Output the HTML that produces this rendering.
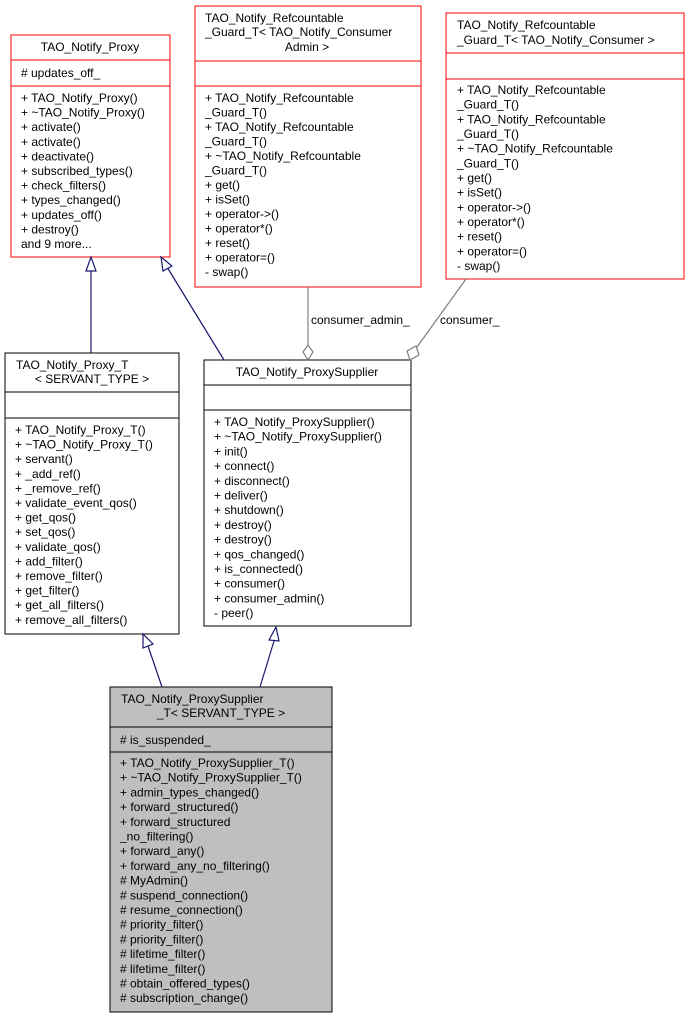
<!DOCTYPE html>
<html><head><meta charset="utf-8"><style>
html,body{margin:0;padding:0;background:#fff}
svg{display:block}
text{font-family:"Liberation Sans",Helvetica,sans-serif;font-size:12px;fill:#000}
</style></head><body>
<svg width="689" height="1019" viewBox="0 0 689 1019" xmlns="http://www.w3.org/2000/svg">
<!-- TAO_Notify_Proxy -->
<rect x="11" y="35" width="159" height="222" fill="#fff" stroke="#ff0000" stroke-width="1"/>
<line x1="11" y1="60" x2="170" y2="60" stroke="#ff0000"/>
<line x1="11" y1="86" x2="170" y2="86" stroke="#ff0000"/>
<text x="90" y="51" text-anchor="middle">TAO_Notify_Proxy</text>
<text x="21" y="77"># updates_off_</text>
<g transform="translate(21,102)">
<text y="0">+ TAO_Notify_Proxy()</text>
<text y="14.6">+ ~TAO_Notify_Proxy()</text>
<text y="29.2">+ activate()</text>
<text y="43.8">+ activate()</text>
<text y="58.4">+ deactivate()</text>
<text y="73">+ subscribed_types()</text>
<text y="87.6">+ check_filters()</text>
<text y="102.2">+ types_changed()</text>
<text y="116.8">+ updates_off()</text>
<text y="131.4">+ destroy()</text>
<text y="146">and 9 more...</text>
</g>
<!-- Refcountable 1 -->
<rect x="195" y="6" width="226" height="281" fill="#fff" stroke="#ff0000"/>
<line x1="195" y1="61" x2="421" y2="61" stroke="#ff0000"/>
<line x1="195" y1="86" x2="421" y2="86" stroke="#ff0000"/>
<text x="205" y="22">TAO_Notify_Refcountable</text>
<text x="205" y="36">_Guard_T&lt; TAO_Notify_Consumer</text>
<text x="307" y="51" text-anchor="middle">Admin &gt;</text>
<g transform="translate(205,102)">
<text y="0">+ TAO_Notify_Refcountable</text>
<text y="14.5">_Guard_T()</text>
<text y="29">+ TAO_Notify_Refcountable</text>
<text y="43.5">_Guard_T()</text>
<text y="58">+ ~TAO_Notify_Refcountable</text>
<text y="72.5">_Guard_T()</text>
<text y="87">+ get()</text>
<text y="101.5">+ isSet()</text>
<text y="116">+ operator-&gt;()</text>
<text y="130.5">+ operator*()</text>
<text y="145">+ reset()</text>
<text y="159.5">+ operator=()</text>
<text y="174">- swap()</text>
</g>
<!-- Refcountable 2 -->
<rect x="446" y="13" width="238" height="266" fill="#fff" stroke="#ff0000"/>
<line x1="446" y1="53" x2="684" y2="53" stroke="#ff0000"/>
<line x1="446" y1="79" x2="684" y2="79" stroke="#ff0000"/>
<text x="457" y="29">TAO_Notify_Refcountable</text>
<text x="457" y="44">_Guard_T&lt; TAO_Notify_Consumer &gt;</text>
<g transform="translate(457,94)">
<text y="0">+ TAO_Notify_Refcountable</text>
<text y="14.67">_Guard_T()</text>
<text y="29.3">+ TAO_Notify_Refcountable</text>
<text y="44">_Guard_T()</text>
<text y="58.7">+ ~TAO_Notify_Refcountable</text>
<text y="73.3">_Guard_T()</text>
<text y="88">+ get()</text>
<text y="102.7">+ isSet()</text>
<text y="117.3">+ operator-&gt;()</text>
<text y="132">+ operator*()</text>
<text y="146.7">+ reset()</text>
<text y="161.3">+ operator=()</text>
<text y="176">- swap()</text>
</g>
<!-- Proxy_T -->
<rect x="5" y="353" width="174" height="281" fill="#fff" stroke="#000"/>
<line x1="5" y1="392" x2="179" y2="392" stroke="#000"/>
<line x1="5" y1="418" x2="179" y2="418" stroke="#000"/>
<text x="16" y="369">TAO_Notify_Proxy_T</text>
<text x="92" y="383" text-anchor="middle">&lt; SERVANT_TYPE &gt;</text>
<g transform="translate(15,434)">
<text y="0">+ TAO_Notify_Proxy_T()</text>
<text y="14.6">+ ~TAO_Notify_Proxy_T()</text>
<text y="29.2">+ servant()</text>
<text y="43.8">+ _add_ref()</text>
<text y="58.4">+ _remove_ref()</text>
<text y="73">+ validate_event_qos()</text>
<text y="87.6">+ get_qos()</text>
<text y="102.2">+ set_qos()</text>
<text y="116.8">+ validate_qos()</text>
<text y="131.4">+ add_filter()</text>
<text y="146">+ remove_filter()</text>
<text y="160.6">+ get_filter()</text>
<text y="175.2">+ get_all_filters()</text>
<text y="189.8">+ remove_all_filters()</text>
</g>
<!-- ProxySupplier -->
<rect x="204" y="360" width="207" height="266" fill="#fff" stroke="#000"/>
<line x1="204" y1="385" x2="411" y2="385" stroke="#000"/>
<line x1="204" y1="410" x2="411" y2="410" stroke="#000"/>
<text x="307" y="376" text-anchor="middle">TAO_Notify_ProxySupplier</text>
<g transform="translate(214,426)">
<text y="0">+ TAO_Notify_ProxySupplier()</text>
<text y="14.7">+ ~TAO_Notify_ProxySupplier()</text>
<text y="29.4">+ init()</text>
<text y="44.1">+ connect()</text>
<text y="58.8">+ disconnect()</text>
<text y="73.5">+ deliver()</text>
<text y="88.2">+ shutdown()</text>
<text y="102.9">+ destroy()</text>
<text y="117.6">+ destroy()</text>
<text y="132.3">+ qos_changed()</text>
<text y="147">+ is_connected()</text>
<text y="161.7">+ consumer()</text>
<text y="176.4">+ consumer_admin()</text>
<text y="191.1">- peer()</text>
</g>
<!-- Bottom -->
<rect x="110" y="687" width="222" height="325" fill="#bfbfbf" stroke="#000"/>
<line x1="110" y1="727" x2="332" y2="727" stroke="#000"/>
<line x1="110" y1="752" x2="332" y2="752" stroke="#000"/>
<text x="121" y="703">TAO_Notify_ProxySupplier</text>
<text x="221" y="717" text-anchor="middle">_T&lt; SERVANT_TYPE &gt;</text>
<text x="120" y="744"># is_suspended_</text>
<g transform="translate(120,767)">
<text y="0">+ TAO_Notify_ProxySupplier_T()</text>
<text y="14.7">+ ~TAO_Notify_ProxySupplier_T()</text>
<text y="29.4">+ admin_types_changed()</text>
<text y="44.1">+ forward_structured()</text>
<text y="58.8">+ forward_structured</text>
<text y="73.5">_no_filtering()</text>
<text y="88.2">+ forward_any()</text>
<text y="102.9">+ forward_any_no_filtering()</text>
<text y="117.6"># MyAdmin()</text>
<text y="132.3"># suspend_connection()</text>
<text y="147"># resume_connection()</text>
<text y="161.7"># priority_filter()</text>
<text y="176.4"># priority_filter()</text>
<text y="191.1"># lifetime_filter()</text>
<text y="205.8"># lifetime_filter()</text>
<text y="220.5"># obtain_offered_types()</text>
<text y="235.2"># subscription_change()</text>
</g>
<!-- inheritance edges -->
<g stroke="#191970" stroke-width="1.2" fill="#fff">
<line x1="91" y1="353" x2="91" y2="271"/>
<polygon points="91,257 86,271 96,271"/>
<line x1="224" y1="360" x2="167" y2="267"/>
<polygon points="161,257 163,271 172,266"/>
<line x1="162" y1="687" x2="148" y2="646"/>
<polygon points="143,634 143,648 153,644"/>
<line x1="260" y1="687" x2="274" y2="641"/>
<polygon points="276,627 269,640 279,641"/>
</g>
<!-- aggregation edges -->
<g stroke="#808080" stroke-width="1.2" fill="#fff">
<line x1="308" y1="287" x2="308" y2="345"/>
<polygon points="308,345 313,352 308,360 303,352"/>
<line x1="466" y1="279" x2="417" y2="347"/>
<polygon points="416,346 419,355 410,360 407,351"/>
</g>
<text x="311" y="324">consumer_admin_</text>
<text x="440" y="324">consumer_</text>
</svg>
</body></html>
